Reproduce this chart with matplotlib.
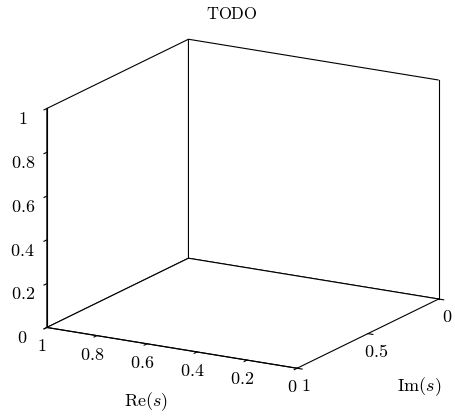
import matplotlib
matplotlib.use("Agg")
import matplotlib.pyplot as plt
import numpy as np

plt.rcParams['mathtext.fontset'] = 'cm'
plt.rcParams['font.family'] = 'serif'
plt.rcParams['font.serif'] = ['DejaVu Serif']

# axis ticks (empty chart, only axes)
re_lim = (0, 1)
im_lim = (0, 1)
z_lim = (0, 1)
re_ticks = [0, 0.2, 0.4, 0.6, 0.8, 1]
re_labels = ['0', '0.2', '0.4', '0.6', '0.8', '1']
im_ticks = [0, 0.5, 1]
im_labels = ['0', '0.5', '1']
z_ticks = [0, 0.2, 0.4, 0.6, 0.8, 1]
z_labels = ['0', '0.2', '0.4', '0.6', '0.8', '1']
title = 'TODO'

fig = plt.figure(figsize=(4.55, 4.18), dpi=100)
ax = fig.add_axes([0.022, 0.035, 1.0, 0.93], projection='3d', proj_type='ortho')
ax.view_init(elev=16.4, azim=120)
ax.set_box_aspect((1.0, 0.98, 0.79), zoom=1.16)

ax.set_xlim(*re_lim)
ax.set_ylim(*im_lim)
ax.set_zlim(*z_lim)
ax.set_xticks(re_ticks)
ax.set_xticklabels(['$%s$' % s for s in re_labels])
ax.set_yticks(im_ticks)
ax.set_yticklabels(['$%s$' % s for s in im_labels])
ax.set_zticks(z_ticks)
ax.set_zticklabels(['$%s$' % s for s in z_labels])
ax.xaxis.set_rotate_label(False)
ax.yaxis.set_rotate_label(False)
ax.set_xlabel(r'$\mathrm{Re}(s)$', fontsize=13, labelpad=6)
ax.set_ylabel(r'$\mathrm{Im}(s)$', fontsize=13, labelpad=9)
ax.grid(False)
for axis in (ax.xaxis, ax.yaxis, ax.zaxis):
    axis.set_pane_color((1, 1, 1, 1))
    axis.pane.set_edgecolor('black')
    axis.pane.set_linewidth(0.8)
    axis.pane.set_clip_on(False)
    axis.line.set_color('black')
    axis.line.set_linewidth(0.8)
    axis._axinfo['tick']['inward_factor'] = 0.25
    axis._axinfo['tick']['outward_factor'] = 0.0
    axis._axinfo['tick']['color'] = 'grey'
    axis.set_tick_params(labelsize=13, colors='black', pad=-3)
ax.zaxis.set_tick_params(pad=1)
ax.zaxis.set_ticks_position('upper')
ax.zaxis.set_label_position('upper')
# back vertical box edge at Re=min, Im=min
ax.plot([re_lim[0], re_lim[0]], [im_lim[0], im_lim[0]], list(z_lim),
        color='black', lw=0.8, clip_on=False)
fig.text(0.51, 0.965, r'$\mathrm{%s}$' % title, ha='center', va='center', fontsize=12)
fig.savefig('out.png', dpi=100)
